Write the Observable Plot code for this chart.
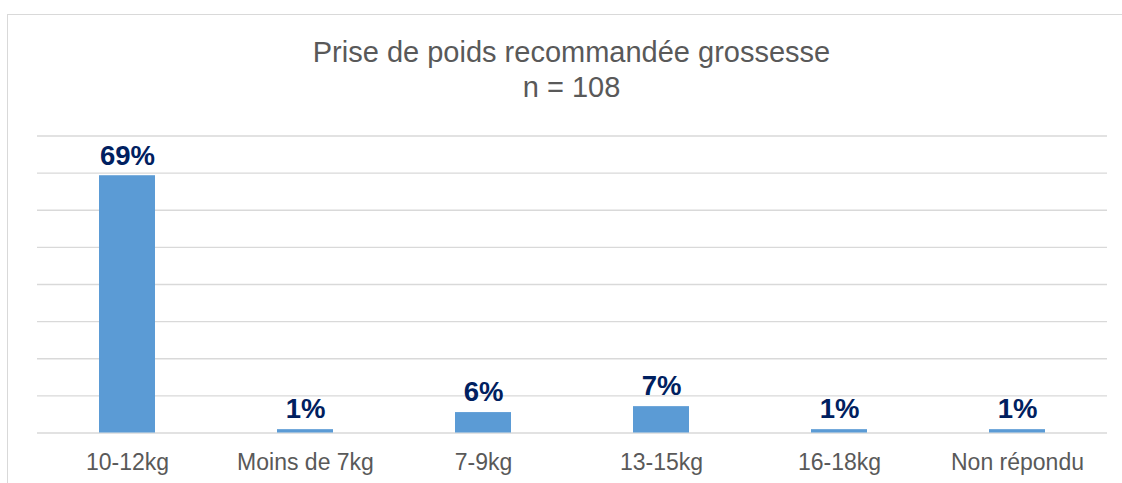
<!DOCTYPE html>
<html>
<head>
<meta charset="utf-8">
<script src="https://cdn.jsdelivr.net/npm/d3@7"></script>
<script src="https://cdn.jsdelivr.net/npm/@observablehq/plot@0.6"></script>
<style>
  html, body { margin: 0; padding: 0; background: #fff; }
  #wrap { position: relative; width: 1122px; height: 483px; overflow: hidden; font-family: "Liberation Sans", Arial, sans-serif; }
  #frame { position: absolute; left: 7px; top: 14px; width: 1140px; height: 500px; border: 1.3px solid #d9d9d9; box-sizing: border-box; }
  #title { position: absolute; left: 0; top: 35px; width: 1143px; text-align: center; font-size: 29px; line-height: 35px; color: #595959; }
  #chart { position: absolute; left: 0; top: 110px; }
</style>
</head>
<body>
<div id="wrap">
  <div id="frame"></div>
  <div id="title">Prise de poids recommandée grossesse<br>n = 108</div>
  <div id="chart"></div>
</div>
<script>
const categories = ["10-12kg", "Moins de 7kg", "7-9kg", "13-15kg", "16-18kg", "Non répondu"];
const values = [69.3, 0.9, 5.5, 7.1, 0.9, 0.9];
const valueLabels = ["69%", "1%", "6%", "7%", "1%", "1%"];
const gridTicks = [0, 10, 20, 30, 40, 50, 60, 70, 80];

const data = categories.map((c, i) => ({cat: c, value: values[i], label: valueLabels[i]}));

const chart = Plot.plot({
  width: 1122,
  height: 373,
  marginTop: 25.5,
  marginBottom: 50.5,
  marginLeft: 37,
  marginRight: 15,
  style: {fontFamily: "'Liberation Sans', Arial, sans-serif", background: "transparent"},
  x: {domain: categories, paddingInner: 0.686, paddingOuter: 0.343, label: null},
  y: {domain: [0, 80], label: null},
  marks: [
    Plot.ruleY(gridTicks, {stroke: "#d9d9d9", strokeWidth: 1.3}),
    Plot.barY(data, {x: "cat", y: "value", fill: "#5b9bd5"}),
    Plot.text(data, {x: "cat", y: "value", text: "label", dy: -20, fontSize: 27.5, fontWeight: "bold", fill: "#002060"}),
    Plot.axisX({tickSize: 0, tickPadding: 21, fontSize: 23, fill: "#595959", label: null}),
    Plot.axisY({ticks: [], label: null})
  ]
});
document.getElementById("chart").appendChild(chart);
</script>
</body>
</html>
